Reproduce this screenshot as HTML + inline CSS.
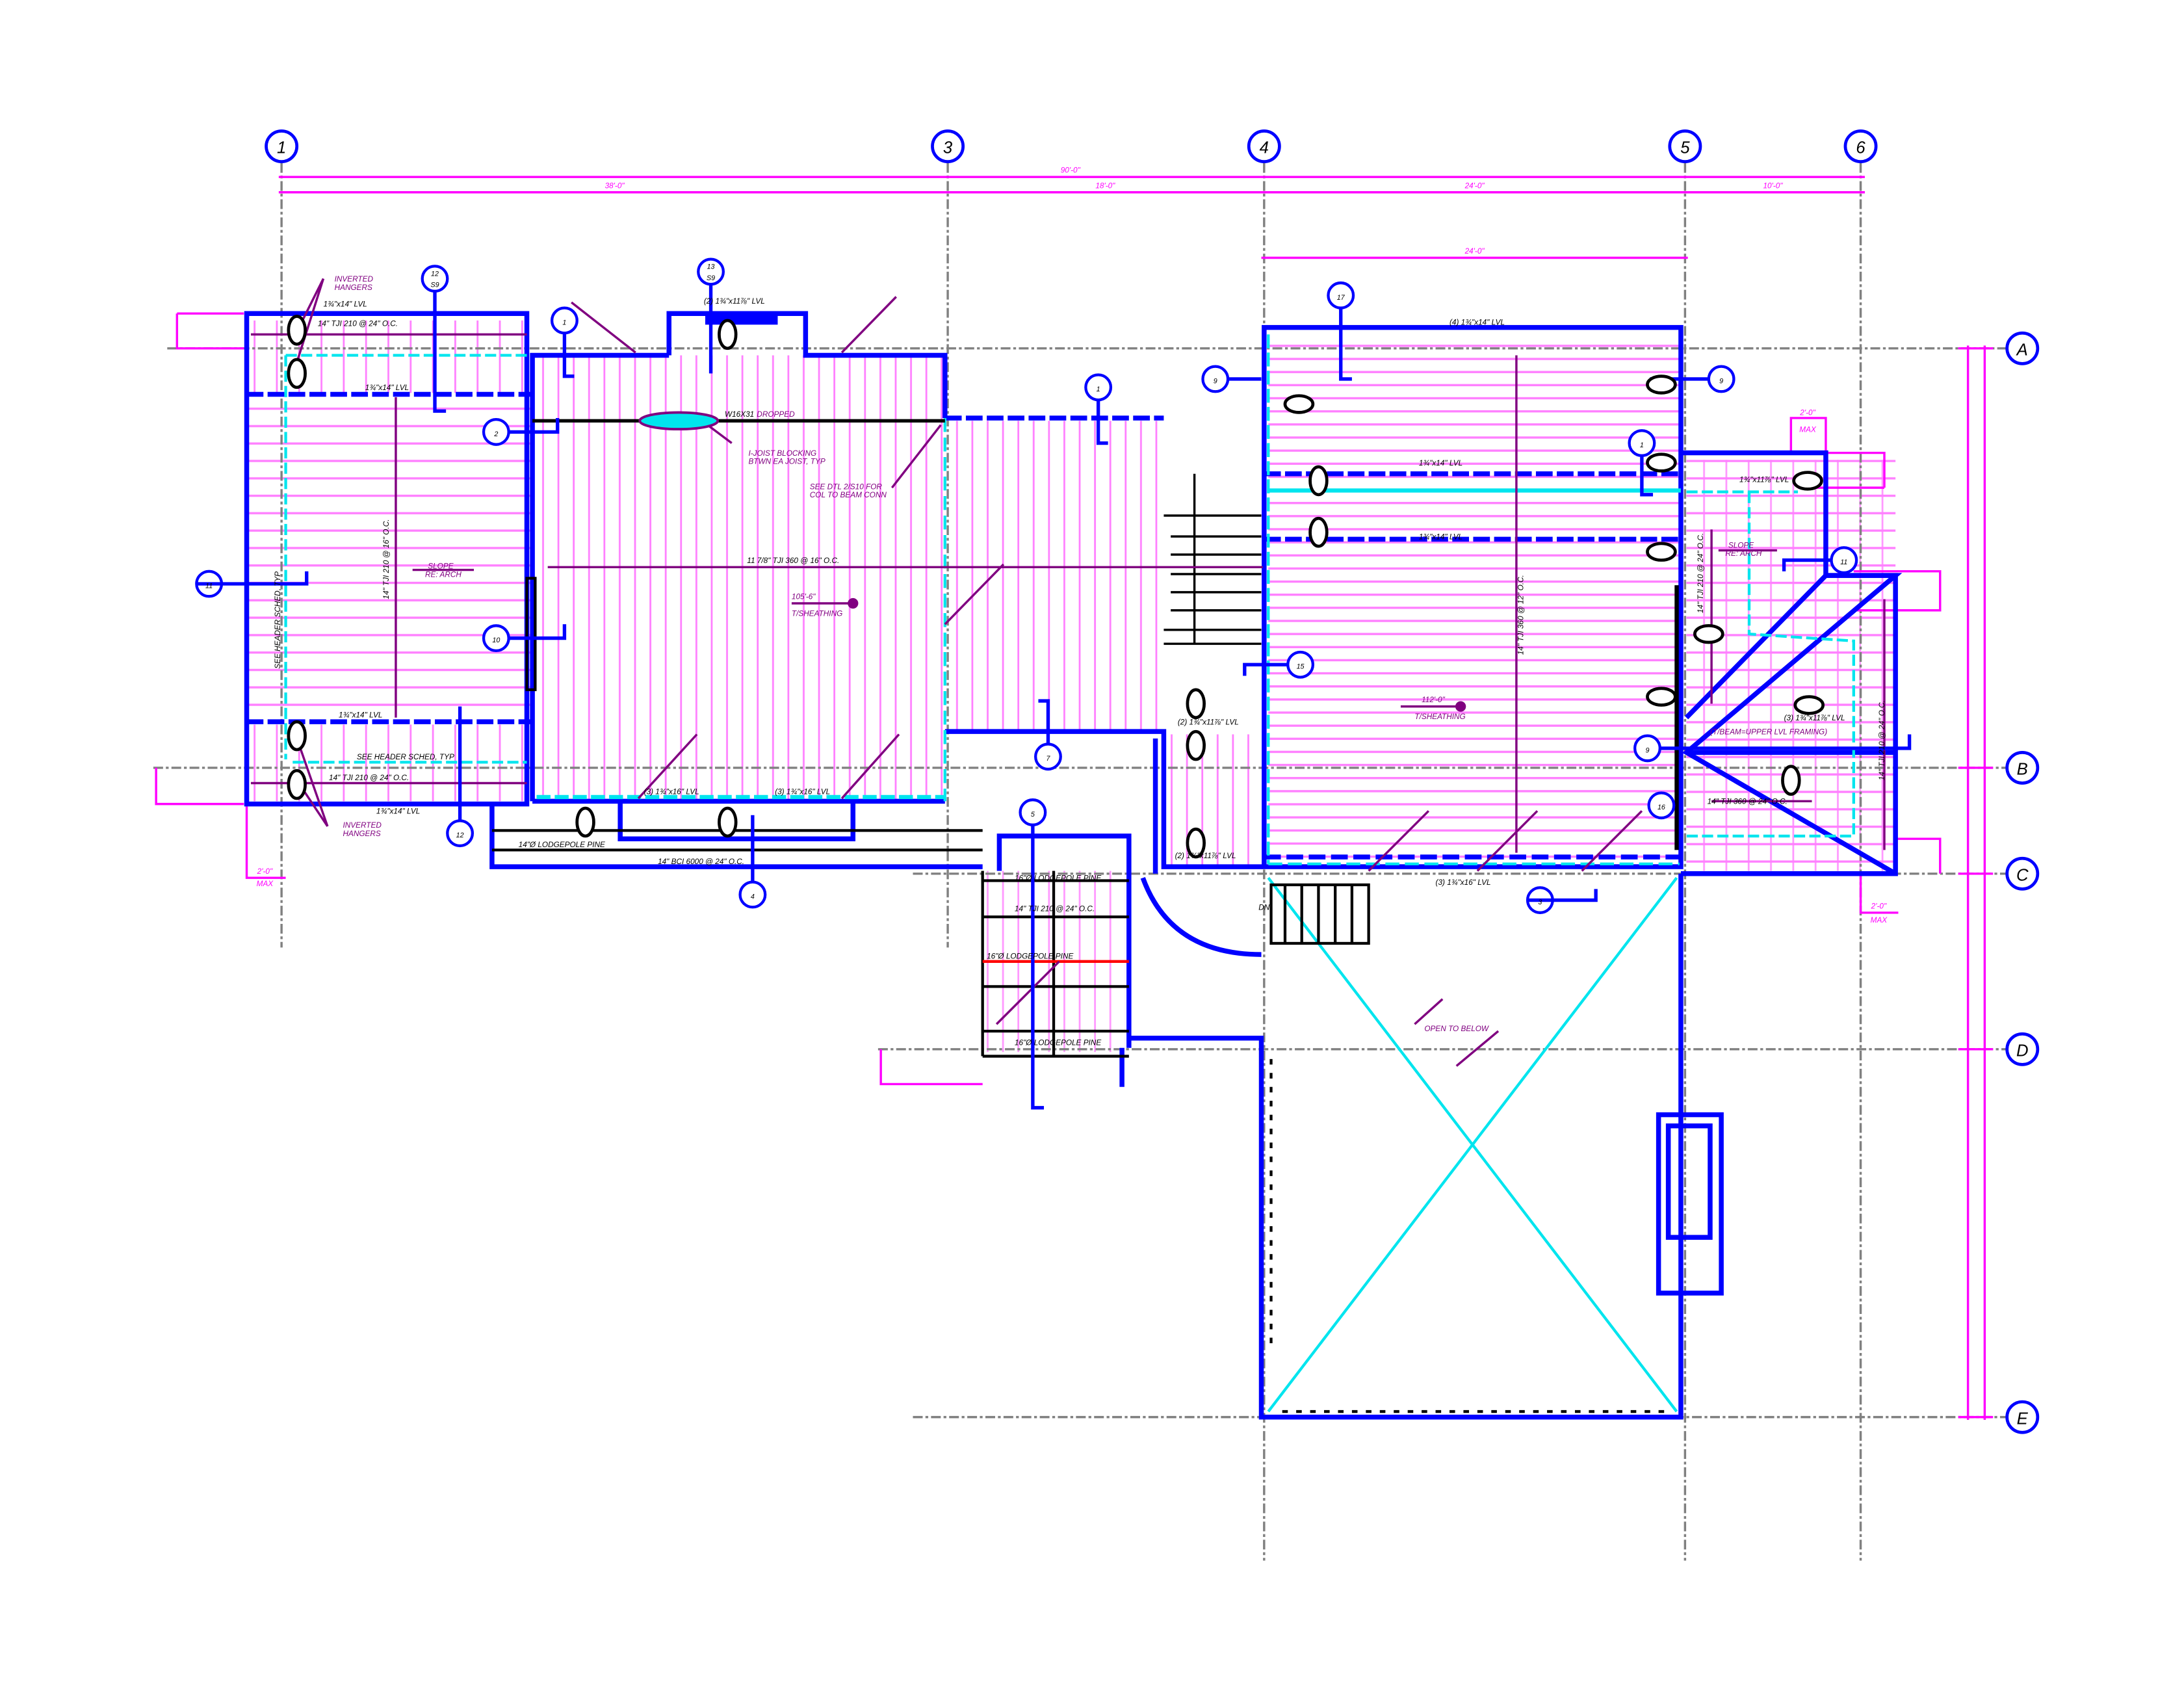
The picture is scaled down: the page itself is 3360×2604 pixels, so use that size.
<!DOCTYPE html>
<html><head><meta charset="utf-8"><style>
html,body{margin:0;padding:0;background:#fff;}
svg{display:block;}
text{font-family:"Liberation Sans",sans-serif;font-style:italic;}
</style></head><body>
<svg width="3360" height="2604" viewBox="0 0 1567 1215" preserveAspectRatio="none" xmlns="http://www.w3.org/2000/svg">
<defs>
<pattern id="pv" width="11" height="10" patternUnits="userSpaceOnUse"><rect x="4" y="0" width="1.3" height="10" fill="#ff80ff"/></pattern>
<pattern id="ph" width="10" height="12.5" patternUnits="userSpaceOnUse"><rect x="0" y="5" width="10" height="1.6" fill="#ff80ff"/></pattern>
<pattern id="ph7" width="10" height="9.4" patternUnits="userSpaceOnUse"><rect x="0" y="3" width="10" height="1.6" fill="#ff80ff"/></pattern>
<pattern id="pv24" width="16" height="10" patternUnits="userSpaceOnUse"><rect x="6" y="0" width="1.3" height="10" fill="#ff80ff"/></pattern>
</defs>
<rect width="1567" height="1215" fill="#fff"/>

<rect x="178" y="230" width="200" height="52" fill="url(#pv24)"/>
<rect x="178" y="288" width="204" height="228" fill="url(#ph)"/>
<rect x="178" y="520" width="200" height="55" fill="url(#pv24)"/>
<rect x="384" y="255" width="294" height="320" fill="url(#pv)"/>
<rect x="680" y="302" width="155" height="222" fill="url(#pv)"/>
<rect x="910" y="240" width="297" height="380" fill="url(#ph7)"/>
<rect x="1210" y="330" width="150" height="295" fill="url(#ph)"/>
<rect x="1210" y="330" width="150" height="295" fill="url(#pv24)" opacity="0.8"/>
<rect x="838" y="527" width="68" height="94" fill="url(#pv)"/>
<rect x="707" y="625" width="100" height="130" fill="url(#pv)" opacity="0.8"/>

<g stroke="#808080" stroke-width="1.6" stroke-dasharray="7,2,2,2" fill="none">
<line x1="202" y1="117" x2="202" y2="680"/>
<line x1="680" y1="117" x2="680" y2="680"/>
<line x1="907" y1="117" x2="907" y2="1120"/>
<line x1="1209" y1="117" x2="1209" y2="1120"/>
<line x1="1335" y1="117" x2="1335" y2="1120"/>
<line x1="120" y1="250" x2="1440" y2="250"/>
<line x1="110" y1="551" x2="1440" y2="551"/>
<line x1="655" y1="627" x2="1440" y2="627"/>
<line x1="630" y1="753" x2="1440" y2="753"/>
<line x1="655" y1="1017" x2="1440" y2="1017"/>
</g>

<g stroke="#0000ff" stroke-width="2.2" fill="#fff" font-size="13">
<circle cx="202" cy="105" r="11"/><circle cx="680" cy="105" r="11"/><circle cx="907" cy="105" r="11"/><circle cx="1209" cy="105" r="11"/><circle cx="1335" cy="105" r="11"/>
<circle cx="1451" cy="250" r="11"/><circle cx="1451" cy="551" r="11"/><circle cx="1451" cy="627" r="11"/><circle cx="1451" cy="753" r="11"/><circle cx="1451" cy="1017" r="11"/>
</g>
<g font-size="12" fill="#000" text-anchor="middle" style="font-style:normal">
<text x="202" y="110">1</text><text x="680" y="110">3</text><text x="907" y="110">4</text><text x="1209" y="110">5</text><text x="1335" y="110">6</text>
<text x="1451" y="255">A</text><text x="1451" y="556">B</text><text x="1451" y="632">C</text><text x="1451" y="758">D</text><text x="1451" y="1022">E</text>
</g>

<g stroke="#ff00ff" stroke-width="1.6" fill="none">
<line x1="200" y1="127" x2="1338" y2="127"/>
<line x1="200" y1="138" x2="1338" y2="138"/>
<line x1="905" y1="185" x2="1211" y2="185"/>
<line x1="1412" y1="248" x2="1412" y2="1019"/>
<line x1="1424" y1="248" x2="1424" y2="1019"/>
<line x1="1405" y1="551" x2="1430" y2="551"/><line x1="1405" y1="627" x2="1430" y2="627"/><line x1="1405" y1="753" x2="1430" y2="753"/>
<line x1="1405" y1="1017" x2="1430" y2="1017"/><line x1="1405" y1="250" x2="1430" y2="250"/>
<polyline points="127,225 127,250 175,250"/><line x1="127" y1="225" x2="175" y2="225"/>
<polyline points="112,551 112,577 175,577"/>
<polyline points="177,577 177,630 205,630"/>
<polyline points="632,753 632,778 705,778"/>
<polyline points="1285,325 1285,300 1310,300 1310,330"/>
<polyline points="1310,325 1352,325 1352,350"/><line x1="1290" y1="350" x2="1352" y2="350"/>
<polyline points="1330,410 1392,410 1392,438 1330,438"/>
<polyline points="1360,602 1392,602 1392,627"/>
<polyline points="1335,627 1335,655 1362,655"/>
</g>
<g font-size="5.5" fill="#ff00ff" text-anchor="middle">
<text x="768" y="124">90'-0"</text><text x="441" y="135">38'-0"</text><text x="793" y="135">18'-0"</text><text x="1058" y="135">24'-0"</text><text x="1272" y="135">10'-0"</text>
<text x="1058" y="182">24'-0"</text>
<text x="190" y="627">2'-0"</text><text x="190" y="636">MAX</text>
<text x="1297" y="298">2'-0"</text><text x="1297" y="310">MAX</text>
<text x="1348" y="652">2'-0"</text><text x="1348" y="662">MAX</text>
</g>

<g stroke="#0000ff" stroke-width="3.5" fill="none">
<rect x="177" y="225" width="201" height="352"/>
<line x1="177" y1="283" x2="382" y2="283" stroke-dasharray="12,3"/>
<line x1="177" y1="518" x2="382" y2="518" stroke-dasharray="12,3"/>
<polyline points="382,575 382,255 480,255"/>
<polyline points="480,255 480,225 578,225 578,255 678,255 678,300"/>
<line x1="678" y1="300" x2="835" y2="300" stroke-dasharray="12,3"/>
<line x1="382" y1="575" x2="678" y2="575"/>
<polyline points="445,575 445,602 612,602 612,575"/>
<polyline points="353,577 353,622 705,622"/>
<polyline points="678,525 835,525 835,622 906,622"/>
<rect x="907" y="235" width="299" height="387"/>
<line x1="907" y1="340" x2="1206" y2="340" stroke-dasharray="12,3"/>
<line x1="907" y1="387" x2="1206" y2="387" stroke-dasharray="12,3"/>
<line x1="907" y1="615" x2="1206" y2="615" stroke-dasharray="12,4"/>
<polyline points="1206,325 1310,325 1310,413 1360,413 1360,627 1206,627"/>
<polyline points="1210,515 1310,413"/>
<polyline points="1310,413 1360,413 1210,540 1360,627"/>
<line x1="1210" y1="540" x2="1360" y2="540"/>
<polyline points="717,625 717,600 810,600 810,752"/>
<line x1="805" y1="752" x2="805" y2="780"/>
<polyline points="810,745 905,745 905,1017 1206,1017 1206,627"/>
<polyline points="829,627 829,530"/>
<path d="M 820 630 Q 840 685 905 685"/>
<rect x="1190" y="800" width="45" height="128"/>
<rect x="1197" y="808" width="30" height="80"/>
</g>

<g stroke="#00e5ee" stroke-width="2" fill="none">
<line x1="910" y1="630" x2="1203" y2="1013"/>
<line x1="1203" y1="630" x2="910" y2="1013"/>
<line x1="205" y1="255" x2="378" y2="255" stroke-dasharray="8,3"/>
<line x1="205" y1="255" x2="205" y2="545" stroke-dasharray="8,3"/>
<line x1="210" y1="547" x2="378" y2="547" stroke-dasharray="8,3"/>
<line x1="910" y1="352" x2="1206" y2="352" stroke-width="3"/>
<line x1="1210" y1="353" x2="1290" y2="353" stroke-dasharray="8,3"/>
<polyline points="1255,353 1255,455 1330,460 1330,600 1210,600" stroke-dasharray="8,3"/>
<line x1="385" y1="572" x2="678" y2="572" stroke-dasharray="10,3" stroke-width="3"/>
<line x1="678" y1="300" x2="678" y2="575" stroke-dasharray="10,4"/>
<line x1="910" y1="620" x2="1205" y2="620" stroke-dasharray="10,4"/>
<line x1="910" y1="240" x2="910" y2="620" stroke-dasharray="10,3"/>
</g>

<g stroke="#000" stroke-width="2" fill="none">
<line x1="382" y1="302" x2="678" y2="302" stroke-width="2.5"/>
<rect x="912" y="635" width="70" height="42"/>
<line x1="922" y1="635" x2="922" y2="677"/><line x1="934" y1="635" x2="934" y2="677"/><line x1="946" y1="635" x2="946" y2="677"/><line x1="958" y1="635" x2="958" y2="677"/><line x1="970" y1="635" x2="970" y2="677"/>
<g stroke-width="1.6">
<line x1="835" y1="370" x2="905" y2="370"/><line x1="840" y1="385" x2="905" y2="385"/><line x1="840" y1="398" x2="905" y2="398"/>
<line x1="840" y1="412" x2="905" y2="412"/><line x1="840" y1="425" x2="905" y2="425"/><line x1="840" y1="438" x2="905" y2="438"/><line x1="835" y1="452" x2="905" y2="452"/><line x1="835" y1="462" x2="905" y2="462"/>
<line x1="857" y1="340" x2="857" y2="462"/>
</g>
<line x1="705" y1="632" x2="810" y2="632"/><line x1="705" y1="658" x2="810" y2="658"/>
<line x1="705" y1="708" x2="810" y2="708"/><line x1="705" y1="740" x2="810" y2="740"/><line x1="705" y1="758" x2="810" y2="758"/>
<line x1="705" y1="625" x2="705" y2="758"/><line x1="756" y1="625" x2="756" y2="758"/>
<line x1="353" y1="596" x2="705" y2="596"/><line x1="353" y1="610" x2="705" y2="610"/>
<rect x="378" y="415" width="6" height="80"/>
<line x1="912" y1="760" x2="912" y2="970" stroke-dasharray="4,6"/>
<line x1="920" y1="1013" x2="1200" y2="1013" stroke-dasharray="4,6"/>
</g>
<line x1="705" y1="690" x2="810" y2="690" stroke="#ff0000" stroke-width="2"/>
<line x1="1203" y1="420" x2="1203" y2="610" stroke="#000" stroke-width="3"/>
<rect x="506" y="225" width="52" height="8" fill="#0000ff"/>

<g stroke="#800080" stroke-width="1.6" fill="none">
<line x1="284" y1="285" x2="284" y2="515"/>
<line x1="393" y1="407" x2="906" y2="407"/>
<line x1="1088" y1="255" x2="1088" y2="612"/>
<line x1="180" y1="240" x2="378" y2="240"/>
<line x1="180" y1="562" x2="378" y2="562"/>
<line x1="296" y1="409" x2="340" y2="409"/>
<line x1="1228" y1="380" x2="1228" y2="505"/>
<line x1="1352" y1="430" x2="1352" y2="610"/>
<line x1="1228" y1="575" x2="1300" y2="575"/>
<line x1="1233" y1="395" x2="1275" y2="395"/>
<line x1="568" y1="433" x2="612" y2="433"/><circle cx="612" cy="433" r="3" fill="#800080"/>
<line x1="1005" y1="507" x2="1048" y2="507"/><circle cx="1048" cy="507" r="3" fill="#800080"/>
<line x1="410" y1="217" x2="456" y2="253"/><line x1="604" y1="253" x2="643" y2="213"/>
<line x1="640" y1="350" x2="675" y2="305"/>
<line x1="505" y1="303" x2="525" y2="318"/>
<line x1="678" y1="448" x2="720" y2="405"/>
<line x1="458" y1="573" x2="500" y2="527"/><line x1="604" y1="573" x2="645" y2="527"/>
<line x1="982" y1="625" x2="1025" y2="582"/><line x1="1060" y1="625" x2="1103" y2="582"/><line x1="1135" y1="625" x2="1178" y2="582"/>
<line x1="1015" y1="735" x2="1035" y2="717"/><line x1="1045" y1="765" x2="1075" y2="740"/>
<line x1="715" y1="735" x2="760" y2="690"/>
<line x1="212" y1="240" x2="232" y2="200"/><line x1="213" y1="260" x2="232" y2="200"/>
<line x1="212" y1="527" x2="235" y2="593"/><line x1="213" y1="560" x2="235" y2="593"/>
</g>
<ellipse cx="487" cy="302" rx="28" ry="6" stroke="#800080" stroke-width="1.8" fill="#00e5ee"/>

<g stroke="#0000ff" stroke-width="2" fill="#fff">
<circle cx="312" cy="200" r="9"/><circle cx="510" cy="195" r="9"/><circle cx="405" cy="230" r="9"/><circle cx="356" cy="310" r="9"/>
<circle cx="150" cy="419" r="9"/><circle cx="356" cy="458" r="9"/><circle cx="330" cy="598" r="9"/><circle cx="540" cy="642" r="9"/>
<circle cx="788" cy="278" r="9"/><circle cx="872" cy="272" r="9"/><circle cx="962" cy="212" r="9"/><circle cx="1235" cy="272" r="9"/>
<circle cx="1178" cy="318" r="9"/><circle cx="1323" cy="402" r="9"/><circle cx="933" cy="477" r="9"/><circle cx="1182" cy="537" r="9"/>
<circle cx="1192" cy="578" r="9"/><circle cx="1105" cy="646" r="9"/><circle cx="752" cy="543" r="9"/><circle cx="741" cy="583" r="9"/>
</g>
<g stroke="#0000ff" stroke-width="2.5" fill="none">
<polyline points="312,209 312,295 320,295"/><polyline points="510,204 510,268"/><polyline points="405,239 405,270 412,270"/>
<polyline points="365,310 400,310 400,300"/><polyline points="141,419 210,419 220,419 220,410"/><polyline points="365,458 405,458 405,448"/>
<polyline points="330,589 330,507"/><polyline points="540,633 540,585"/><polyline points="788,287 788,318 795,318"/>
<polyline points="881,272 905,272"/><polyline points="962,221 962,272 970,272"/><polyline points="1226,272 1185,272 1185,280"/>
<polyline points="1178,327 1178,355 1186,355"/><polyline points="1314,402 1280,402 1280,410"/><polyline points="924,477 893,477 893,485"/>
<polyline points="1191,537 1370,537 1370,527"/><polyline points="1096,646 1145,646 1145,638"/><polyline points="752,534 752,503 745,503"/>
<polyline points="741,592 741,795 749,795"/>
</g>
<g font-size="5" fill="#000" text-anchor="middle">
<text x="312" y="198">12</text><text x="312" y="206">S9</text><text x="510" y="193">13</text><text x="510" y="201">S9</text>
<text x="405" y="233">1</text><text x="356" y="313">2</text><text x="150" y="422">11</text><text x="356" y="461">10</text>
<text x="330" y="601">12</text><text x="540" y="645">4</text><text x="788" y="281">1</text><text x="872" y="275">9</text>
<text x="962" y="215">17</text><text x="1235" y="275">9</text><text x="1178" y="321">1</text><text x="1323" y="405">11</text>
<text x="933" y="480">15</text><text x="1182" y="540">9</text><text x="1192" y="581">16</text><text x="1105" y="649">3</text>
<text x="752" y="546">7</text><text x="741" y="586">5</text>
</g>

<g stroke="#000" stroke-width="2.2" fill="#fff">
<ellipse cx="213" cy="237" rx="6" ry="10"/><ellipse cx="213" cy="268" rx="6" ry="10"/>
<ellipse cx="213" cy="528" rx="6" ry="10"/><ellipse cx="213" cy="563" rx="6" ry="10"/>
<ellipse cx="522" cy="240" rx="6" ry="10"/><ellipse cx="522" cy="590" rx="6" ry="10"/><ellipse cx="420" cy="590" rx="6" ry="10"/>
<ellipse cx="932" cy="290" rx="10" ry="6"/><ellipse cx="1192" cy="276" rx="10" ry="6"/><ellipse cx="1192" cy="332" rx="10" ry="6"/>
<ellipse cx="1192" cy="396" rx="10" ry="6"/><ellipse cx="1192" cy="500" rx="10" ry="6"/><ellipse cx="1226" cy="455" rx="10" ry="6"/>
<ellipse cx="1297" cy="345" rx="10" ry="6"/><ellipse cx="1298" cy="506" rx="10" ry="6"/><ellipse cx="1285" cy="560" rx="6" ry="10"/>
<ellipse cx="946" cy="345" rx="6" ry="10"/><ellipse cx="946" cy="382" rx="6" ry="10"/>
<ellipse cx="858" cy="505" rx="6" ry="10"/><ellipse cx="858" cy="535" rx="6" ry="10"/><ellipse cx="858" cy="605" rx="6" ry="10"/>
</g>

<g font-size="5.5" fill="#000">
<text x="228" y="234">14" TJI 210 @ 24" O.C.</text>
<text x="236" y="560">14" TJI 210 @ 24" O.C.</text>
<text x="232" y="220">1¾"x14" LVL</text><text x="262" y="280">1¾"x14" LVL</text>
<text x="243" y="515">1¾"x14" LVL</text><text x="270" y="584">1¾"x14" LVL</text>
<text x="256" y="545">SEE HEADER SCHED, TYP</text>
<text x="536" y="404">11 7/8" TJI 360 @ 16" O.C.</text>
<text x="505" y="218">(2) 1¾"x11⅞" LVL</text>
<text x="1040" y="233">(4) 1¾"x14" LVL</text>
<text x="1018" y="334">1¾"x14" LVL</text><text x="1018" y="387">1¾"x14" LVL</text>
<text x="1030" y="635">(3) 1¾"x16" LVL</text>
<text x="845" y="520">(2) 1¾"x11⅞" LVL</text><text x="843" y="616">(2) 1¾"x11⅞" LVL</text>
<text x="462" y="570">(3) 1¾"x16" LVL</text><text x="556" y="570">(3) 1¾"x16" LVL</text>
<text x="372" y="608">14"Ø LODGEPOLE PINE</text><text x="472" y="620">14" BCI 6000 @ 24" O.C.</text>
<text x="728" y="632">16"Ø LODGEPOLE PINE</text><text x="728" y="654">14" TJI 210 @ 24" O.C.</text>
<text x="708" y="688">16"Ø LODGEPOLE PINE</text><text x="728" y="750">16"Ø LODGEPOLE PINE</text>
<text x="1248" y="346">1¾"x11⅞" LVL</text><text x="1225" y="577">14" TJI 360 @ 24" O.C.</text>
<text x="1280" y="517">(3) 1¾"x11⅞" LVL</text>
<text x="903" y="653">DN</text>
<text x="520" y="299">W16X31</text>
<text transform="translate(279,430) rotate(-90)">14" TJI 210 @ 16" O.C.</text>
<text transform="translate(1093,470) rotate(-90)">14" TJI 360 @ 12" O.C.</text>
<text transform="translate(1222,440) rotate(-90)">14" TJI 210 @ 24" O.C.</text>
<text transform="translate(1352,560) rotate(-90)">14" TJI 210 @ 24" O.C.</text>
<text transform="translate(201,480) rotate(-90)">SEE HEADER SCHED, TYP</text>
</g>
<g font-size="5.5" fill="#800080">
<text x="240" y="202">INVERTED</text><text x="240" y="208">HANGERS</text>
<text x="246" y="594">INVERTED</text><text x="246" y="600">HANGERS</text>
<text x="543" y="299">DROPPED</text>
<text x="537" y="327">I-JOIST BLOCKING</text><text x="537" y="333">BTWN EA JOIST, TYP</text>
<text x="581" y="351">SEE DTL 2/S10 FOR</text><text x="581" y="357">COL TO BEAM CONN</text>
<text x="307" y="408">SLOPE</text><text x="305" y="414">RE: ARCH</text>
<text x="568" y="430">105'-6"</text><text x="568" y="442">T/SHEATHING</text>
<text x="1020" y="504">112'-0"</text><text x="1015" y="516">T/SHEATHING</text>
<text x="1240" y="393">SLOPE</text><text x="1238" y="399">RE: ARCH</text>
<text x="1022" y="740">OPEN TO BELOW</text>
<text x="1227" y="527">(T/BEAM=UPPER LVL FRAMING)</text>
</g>
</svg>
</body></html>
